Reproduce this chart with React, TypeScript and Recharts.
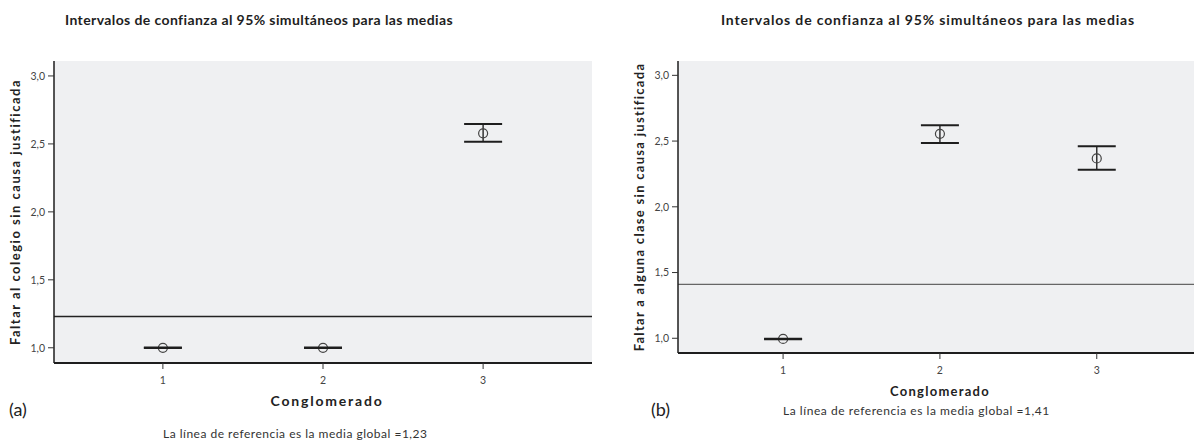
import React from "react";
import {
  ComposedChart,
  Scatter,
  ErrorBar,
  XAxis,
  YAxis,
  CartesianGrid,
  ReferenceLine
} from "recharts";

// cluster ids on the x axis
const clusters = [1, 2, 3];
const xTicks = [1, 2, 3];
const yTicks = [1.0, 1.5, 2.0, 2.5, 3.0];

// (a) Faltar al colegio sin causa justificada
const meansA = [1.0, 1.0, 2.578];
const lowsA = [0.998, 0.998, 2.515];
const highsA = [1.002, 1.002, 2.647];
const refA = 1.23;

// (b) Faltar a alguna clase sin causa justificada
const meansB = [0.995, 2.555, 2.368];
const lowsB = [0.993, 2.486, 2.281];
const highsB = [0.997, 2.621, 2.461];
const refB = 1.41;

const TITLE = "Intervalos de confianza al 95% simultáneos para las medias";
const X_LABEL = "Conglomerado";

const fmt = (v: number) => v.toFixed(1).replace(".", ",");

const capShape = (props: any) => {
  const { cx, cy } = props;
  if (cx == null || cy == null) return <g />;
  return <line x1={cx - 19} x2={cx + 19} y1={cy} y2={cy} stroke="#1e1e1e" strokeWidth={2} />;
};

const meanShape = (props: any) => {
  const { cx, cy } = props;
  if (cx == null || cy == null) return <g />;
  return <circle cx={cx} cy={cy} r={4.5} fill="none" stroke="#444" strokeWidth={1.2} />;
};

type PanelProps = {
  means: number[];
  lows: number[];
  highs: number[];
  refValue: number;
  refColor: string;
  yLabel: string;
  yLabelSpacing: number;
  left: number;
  width: number;
  margin: { top: number; right: number; left: number; bottom: number };
  xDomain: [number, number];
  yDomain: [number, number];
  xLabelSize: number;
  xLabelSpacing: number;
  xLabelOffset: number;
};

function Panel(p: PanelProps) {
  const rows = clusters.map((c, i) => ({
    x: c,
    mean: p.means[i],
    lo: p.lows[i],
    hi: p.highs[i],
    err: [p.means[i] - p.lows[i], p.highs[i] - p.means[i]]
  }));

  return (
    <div style={{ position: "absolute", left: p.left, top: 0 }}>
      <ComposedChart width={p.width} height={440} data={rows} margin={p.margin}>
        <CartesianGrid fill="#eff0f2" horizontal={false} vertical={false} />
        <XAxis
          xAxisId="top"
          orientation="top"
          type="number"
          dataKey="x"
          domain={p.xDomain}
          allowDataOverflow
          height={0}
          tick={false}
          tickLine={false}
          axisLine={{ stroke: "#7a7a7a", strokeWidth: 1.5 }}
        />
        <XAxis
          type="number"
          dataKey="x"
          domain={p.xDomain}
          allowDataOverflow
          ticks={xTicks}
          height={50}
          tickSize={6}
          tickMargin={8}
          tickLine={{ stroke: "#333" }}
          axisLine={{ stroke: "#1e1e1e", strokeWidth: 2 }}
          tick={{ fill: "#444", fontSize: 10.5 }}
          label={{
            value: X_LABEL,
            position: "insideBottom",
            offset: p.xLabelOffset,
            dx: 4,
            style: {
              fontWeight: 700,
              fontSize: p.xLabelSize,
              fill: "#222",
              letterSpacing: `${p.xLabelSpacing}px`
            }
          }}
        />
        <YAxis
          type="number"
          domain={p.yDomain}
          allowDataOverflow
          ticks={yTicks}
          width={40}
          tickSize={6}
          tickMargin={3}
          tickFormatter={fmt}
          tickLine={{ stroke: "#333" }}
          axisLine={{ stroke: "#1e1e1e", strokeWidth: 1.5 }}
          tick={{ fill: "#444", fontSize: 10.5 }}
          label={{
            value: p.yLabel,
            angle: -90,
            position: "insideLeft",
            offset: 1,
            style: {
              textAnchor: "middle",
              fontWeight: 700,
              fontSize: 13,
              fill: "#222",
              letterSpacing: `${p.yLabelSpacing}px`
            }
          }}
        />
        <ReferenceLine y={p.refValue} stroke={p.refColor} strokeWidth={1.3} />
        <Scatter dataKey="mean" shape={meanShape} isAnimationActive={false}>
          <ErrorBar dataKey="err" direction="y" width={0} stroke="#333" strokeWidth={1.5} isAnimationActive={false} />
        </Scatter>
        <Scatter dataKey="hi" shape={capShape} isAnimationActive={false} />
        <Scatter dataKey="lo" shape={capShape} isAnimationActive={false} />
      </ComposedChart>
    </div>
  );
}

export default function App() {
  const titleStyle: React.CSSProperties = {
    position: "absolute",
    top: 11,
    fontWeight: 700,
    fontSize: 14,
    color: "#1e1e1e",
    whiteSpace: "nowrap",
    transform: "translateX(-50%)"
  };
  const noteStyle: React.CSSProperties = {
    position: "absolute",
    fontSize: 12,
    color: "#333",
    whiteSpace: "nowrap"
  };
  const tagStyle: React.CSSProperties = {
    position: "absolute",
    fontSize: 18,
    color: "#222",
    whiteSpace: "nowrap"
  };

  return (
    <div
      style={{
        position: "fixed",
        left: 0,
        top: 0,
        width: 1194,
        height: 440,
        background: "#fff",
        fontFamily: "Lato, 'Open Sans', sans-serif",
        overflow: "hidden"
      }}
    >
      <div style={{ ...titleStyle, left: 259, letterSpacing: "0.4px" }}>{TITLE}</div>
      <div style={{ ...titleStyle, left: 928, letterSpacing: "0.85px" }}>{TITLE}</div>

      <Panel
        means={meansA}
        lows={lowsA}
        highs={highsA}
        refValue={refA}
        refColor="#222"
        yLabel="Faltar al colegio sin causa justificada"
        yLabelSpacing={1.5}
        left={0}
        width={600}
        margin={{ top: 61, right: 8, left: 14, bottom: 27 }}
        xDomain={[0.32, 3.68]}
        yDomain={[0.888, 3.11]}
        xLabelSize={14}
        xLabelSpacing={1.8}
        xLabelOffset={7}
      />
      <Panel
        means={meansB}
        lows={lowsB}
        highs={highsB}
        refValue={refB}
        refColor="#666"
        yLabel="Faltar a alguna clase sin causa justificada"
        yLabelSpacing={1.3}
        left={610}
        width={584}
        margin={{ top: 61, right: 0, left: 28, bottom: 37 }}
        xDomain={[0.33, 3.62]}
        yDomain={[0.888, 3.109]}
        xLabelSize={13}
        xLabelSpacing={1.25}
        xLabelOffset={7}
      />

      <div style={{ ...tagStyle, left: 9, top: 398 }}>(a)</div>
      <div style={{ ...tagStyle, left: 651, top: 398 }}>(b)</div>
      <div style={{ ...noteStyle, left: 163, top: 426, letterSpacing: "0.5px" }}>
        La línea de referencia es la media global =1,23
      </div>
      <div style={{ ...noteStyle, left: 783, top: 403, letterSpacing: "0.55px" }}>
        La línea de referencia es la media global =1,41
      </div>
    </div>
  );
}
